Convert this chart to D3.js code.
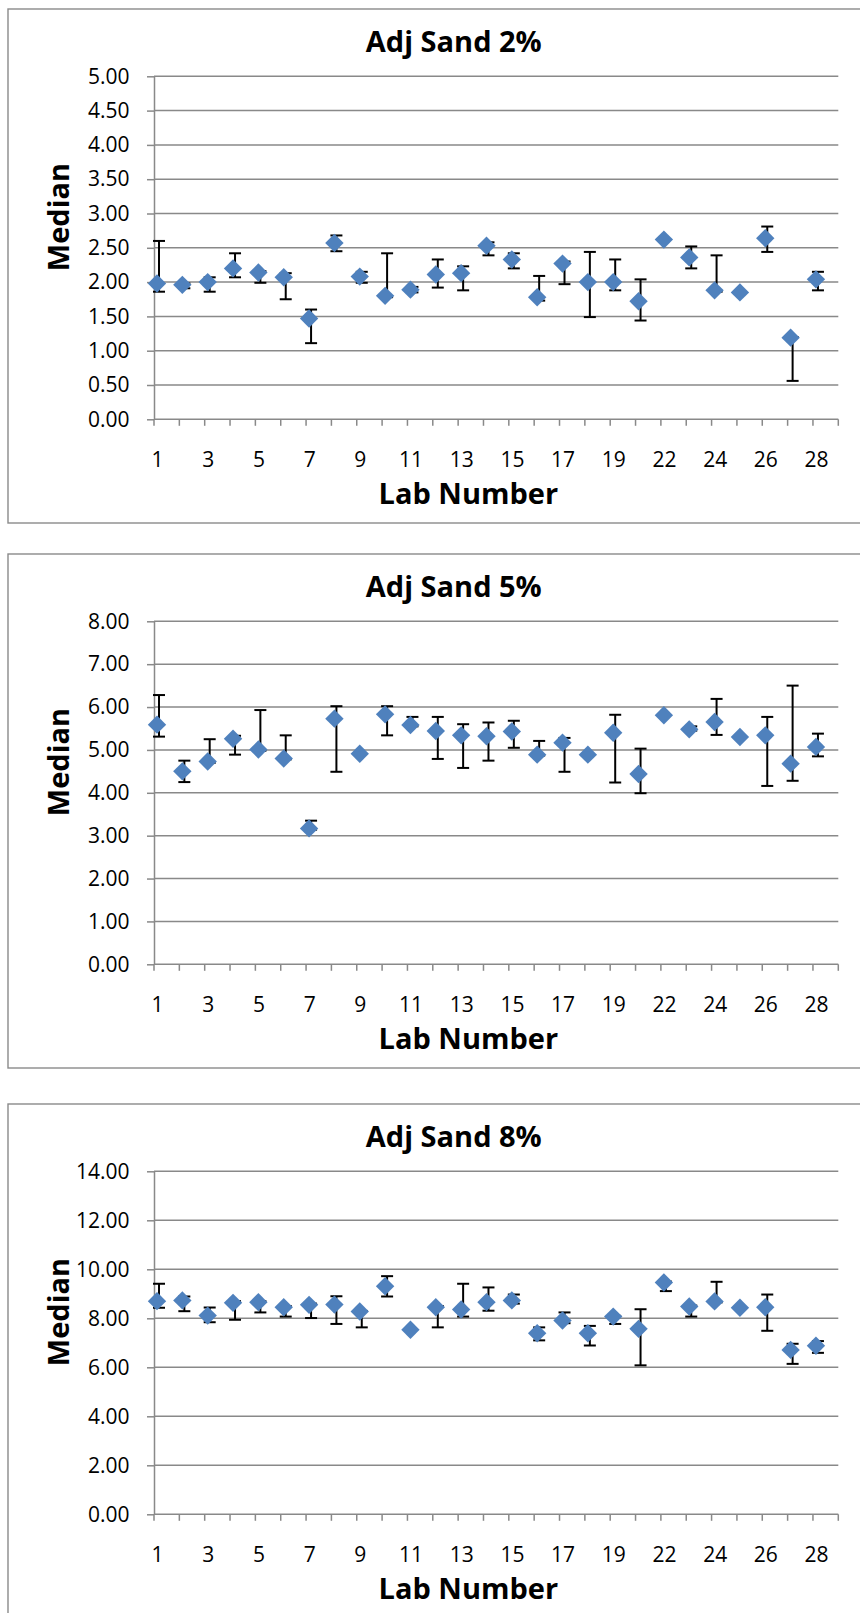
<!DOCTYPE html>
<html>
<head>
<meta charset="utf-8">
<script src="https://cdn.jsdelivr.net/npm/d3@7"></script>
<style>
  html, body { margin: 0; padding: 0; background: #ffffff; }
  svg { display: block; }
</style>
</head>
<body>
<script>
// ---------------- DATA ----------------
const labs = [1,2,3,4,5,6,7,8,9,10,11,12,13,14,15,16,17,18,19,20,22,23,24,25,26,27,28];
const xTickLabels = ["1","3","5","7","9","11","13","15","17","19","22","24","26","28"];

const titles = ["Adj Sand 2%", "Adj Sand 5%", "Adj Sand 8%"];
const yTicks2 = [0,0.5,1,1.5,2,2.5,3,3.5,4,4.5,5];
const yTicks5 = [0,1,2,3,4,5,6,7,8];
const yTicks8 = [0,2,4,6,8,10,12,14];

const median2 = [1.98,1.96,2.00,2.20,2.14,2.07,1.47,2.57,2.08,1.80,1.89,2.11,2.13,2.53,2.33,1.78,2.27,2.00,2.00,1.72,2.62,2.36,1.88,1.85,2.64,1.19,2.04];
const upper2  = [2.60,1.98,2.07,2.42,2.16,2.13,1.60,2.68,2.15,2.42,1.93,2.33,2.23,2.58,2.42,2.09,2.30,2.44,2.33,2.04,2.62,2.52,2.39,1.85,2.81,1.20,2.15];
const lower2  = [1.86,1.91,1.86,2.07,1.99,1.75,1.11,2.45,1.99,1.78,1.85,1.92,1.88,2.39,2.20,1.73,1.97,1.49,1.88,1.44,2.62,2.20,1.86,1.85,2.44,0.56,1.88];

const median5 = [5.59,4.50,4.73,5.26,5.01,4.80,3.17,5.73,4.91,5.83,5.58,5.44,5.34,5.32,5.43,4.89,5.17,4.89,5.40,4.44,5.81,5.48,5.65,5.30,5.34,4.68,5.07];
const upper5  = [6.28,4.75,5.25,5.33,5.93,5.34,3.35,6.02,4.91,6.02,5.77,5.77,5.60,5.64,5.68,5.21,5.28,4.89,5.82,5.03,5.81,5.55,6.19,5.30,5.77,6.50,5.38];
const lower5  = [5.31,4.25,4.70,4.89,4.98,4.78,3.14,4.49,4.91,5.34,5.55,4.79,4.58,4.75,5.05,4.87,4.49,4.89,4.24,3.99,5.81,5.45,5.35,5.30,4.16,4.28,4.85];

const median8 = [8.70,8.73,8.11,8.63,8.66,8.45,8.55,8.56,8.28,9.31,7.53,8.45,8.36,8.66,8.73,7.39,7.91,7.39,8.07,7.57,9.46,8.48,8.69,8.43,8.45,6.71,6.88];
const upper8  = [9.41,8.89,8.44,8.70,8.70,8.50,8.60,8.90,8.30,9.72,7.53,8.50,9.41,9.26,8.97,7.63,8.24,7.69,8.10,8.37,9.50,8.52,9.49,8.43,8.97,6.96,7.07];
const lower8  = [8.43,8.29,7.84,7.94,8.24,8.07,8.01,7.77,7.63,8.89,7.53,7.63,8.07,8.31,8.60,7.10,7.80,6.89,7.77,6.08,9.11,8.07,8.65,8.43,7.49,6.14,6.59];

const yTitle = "Median";
const xTitle = "Lab Number";

// ---------------- LAYOUT ----------------
const W = 860, H = 1613;
const panelTops = [9, 554, 1104];
const BOX_H = 514;
const PLOT_L = 154, PLOT_R = 838.3;
const PLOT_T = 67.3, PLOT_B = 410.3;
const MARK_DX = 3;
const BAR_DX = 2;
const FONT = "'Open Sans', 'Liberation Sans', sans-serif";
const GRID = "#898989";
const BLUE = "#4F81BD";

const panels = [
  { title: titles[0], ticks: yTicks2, med: median2, up: upper2, lo: lower2 },
  { title: titles[1], ticks: yTicks5, med: median5, up: upper5, lo: lower5 },
  { title: titles[2], ticks: yTicks8, med: median8, up: upper8, lo: lower8 }
];

const svg = d3.select("body").append("svg")
  .attr("width", W).attr("height", H)
  .attr("viewBox", `0 0 ${W} ${H}`);

svg.append("rect").attr("width", W).attr("height", H).attr("fill", "#ffffff");

panels.forEach((p, pi) => {
  const g = svg.append("g").attr("transform", `translate(0,${panelTops[pi]})`);

  // chart border
  g.append("rect")
    .attr("x", 8).attr("y", 0)
    .attr("width", 900).attr("height", BOX_H)
    .attr("fill", "#ffffff")
    .attr("stroke", "#8a8a8a").attr("stroke-width", 1.4);

  const x = d3.scaleBand().domain(labs).range([PLOT_L, PLOT_R]).paddingInner(0).paddingOuter(0);
  const y = d3.scaleLinear().domain([0, d3.max(p.ticks)]).range([PLOT_B, PLOT_T]);

  // gridlines
  g.append("g").selectAll("line")
    .data(p.ticks.filter(t => t > 0))
    .join("line")
    .attr("x1", PLOT_L).attr("x2", PLOT_R)
    .attr("y1", d => y(d)).attr("y2", d => y(d))
    .attr("stroke", GRID).attr("stroke-width", 1.5);

  // y axis
  const ya = g.append("g")
    .attr("transform", `translate(${PLOT_L},0)`)
    .call(d3.axisLeft(y).tickValues(p.ticks).tickFormat(d3.format(".2f"))
      .tickSize(7).tickSizeOuter(0).tickPadding(17.5));
  ya.attr("font-family", FONT).attr("font-size", 21);
  ya.select(".domain").attr("stroke", GRID).attr("stroke-width", 1.5);
  ya.selectAll(".tick line").attr("stroke", GRID).attr("stroke-width", 1.5);
  ya.selectAll(".tick text").attr("fill", "#000");

  // x axis line and ticks at category boundaries
  const y0 = y(0);
  g.append("line")
    .attr("x1", PLOT_L).attr("x2", PLOT_R)
    .attr("y1", y0).attr("y2", y0)
    .attr("stroke", GRID).attr("stroke-width", 1.5);
  const bounds = labs.map(d => x(d)).concat([x.range()[1]]);
  g.append("g").selectAll("line")
    .data(bounds)
    .join("line")
    .attr("x1", d => d).attr("x2", d => d)
    .attr("y1", y0).attr("y2", y0 + 6.5)
    .attr("stroke", GRID).attr("stroke-width", 1.5);

  // x tick labels
  g.append("g").selectAll("text")
    .data(xTickLabels)
    .join("text")
    .attr("x", d => x(+d) + MARK_DX + 0.6)
    .attr("y", y0 + 47.4)
    .attr("text-anchor", "middle")
    .attr("font-family", FONT).attr("font-size", 21)
    .attr("fill", "#000")
    .text(d => d);

  // error bars
  const rows = labs.map((lab, i) => ({ lab, med: p.med[i], up: p.up[i], lo: p.lo[i] }));
  const eb = g.append("g").attr("stroke", "#000").attr("stroke-width", 2);
  rows.filter(r => r.up !== r.lo).forEach(r => {
    const cx = x(r.lab) + MARK_DX + BAR_DX;
    eb.append("line").attr("x1", cx).attr("x2", cx).attr("y1", y(r.up)).attr("y2", y(r.lo));
    eb.append("line").attr("x1", cx - 6).attr("x2", cx + 6).attr("y1", y(r.up)).attr("y2", y(r.up));
    eb.append("line").attr("x1", cx - 6).attr("x2", cx + 6).attr("y1", y(r.lo)).attr("y2", y(r.lo));
  });

  // diamonds
  const sym = d3.symbol().type(d3.symbolSquare).size(169);
  g.append("g").selectAll("path")
    .data(rows)
    .join("path")
    .attr("d", sym)
    .attr("transform", d => `translate(${x(d.lab) + MARK_DX},${y(d.med)}) rotate(45)`)
    .attr("fill", BLUE);

  // title
  g.append("text")
    .attr("x", 453.8).attr("y", 43.4)
    .attr("text-anchor", "middle")
    .attr("font-family", FONT).attr("font-weight", "bold").attr("font-size", 29)
    .attr("fill", "#000")
    .text(p.title);

  // y axis title
  g.append("text")
    .attr("transform", `translate(69,208) rotate(-90)`)
    .attr("text-anchor", "middle")
    .attr("font-family", FONT).attr("font-weight", "bold").attr("font-size", 29)
    .attr("fill", "#000")
    .text(yTitle);

  // x axis title
  g.append("text")
    .attr("x", 468.3).attr("y", 495)
    .attr("text-anchor", "middle")
    .attr("font-family", FONT).attr("font-weight", "bold").attr("font-size", 29)
    .attr("fill", "#000")
    .text(xTitle);
});
</script>
</body>
</html>
